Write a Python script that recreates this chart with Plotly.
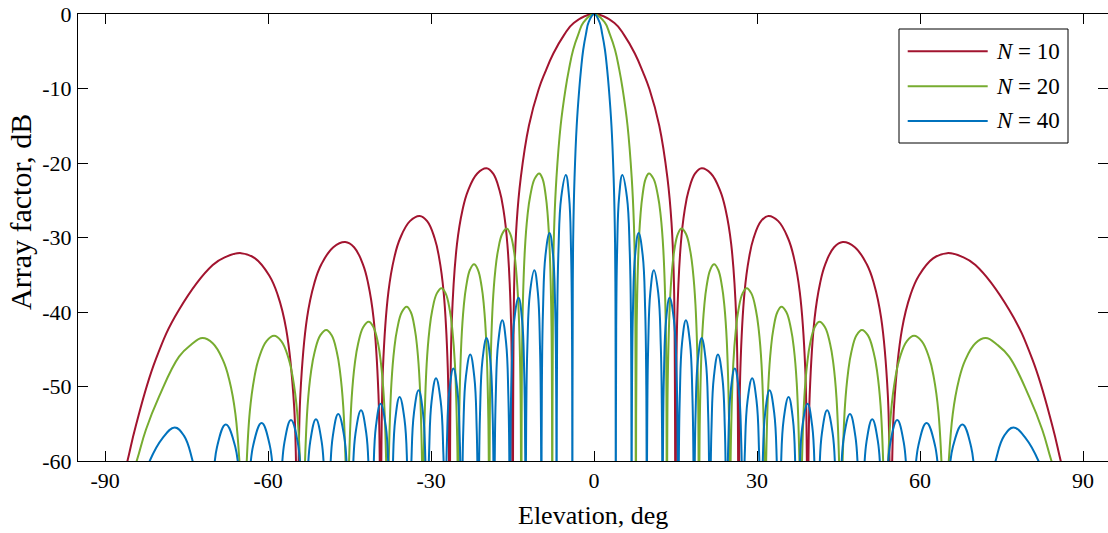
import plotly.graph_objects as go

# ---- data (right half, elevation >= 0; the pattern is symmetric) ----
red_x = [0, 3.75, 5.6, 7.5, 9.0, 10.2, 12.0, 13.5, 14.25, 14.7, 15.0,
         15.29, 15.96, 16.68, 17.4, 18.6, 19.8, 21.5, 23.2, 24.22, 25.24, 26.19, 26.6,
         26.93, 27.7, 28.53, 29.35, 30.73, 32.1, 33.9, 35.7, 36.78, 37.86, 38.87, 39.3,
         39.69, 40.6, 41.58, 42.55, 44.18, 45.8, 48.0, 50.2, 51.52, 52.84, 54.07, 54.6,
         55.22, 56.68, 58.24, 59.8, 62.4, 65.0, 67.8, 70.2, 76.4, 80.7, 84.4, 85.9, 88.0, 90.0]
red_y = [0, -1.2, -2.9, -5.3, -7.8, -10.1, -15, -22, -28, -36, -70,
         -41.2, -30.9, -26.3, -23.7, -21.4, -20.7, -21.4, -23.7, -26.3, -30.9, -41.2, -70,
         -47.6, -37.3, -32.7, -30.1, -27.8, -27.1, -27.8, -30.1, -32.7, -37.3, -47.6, -70,
         -51.1, -40.8, -36.2, -33.6, -31.3, -30.6, -31.3, -33.6, -36.2, -40.8, -51.1, -70,
         -52.6, -42.3, -37.7, -35.1, -32.8, -32.1, -32.6, -33.7, -39.7, -46.4, -55.4, -60, -66, -70]

green_x = [0, 1.93, 2.89, 3.85, 4.62, 5.24, 6.16, 6.93, 7.32, 7.55, 7.7,
           7.84, 8.18, 8.54, 8.9, 9.5, 10.1, 10.93, 11.75, 12.25, 12.74, 13.2, 13.4,
           13.56, 13.94, 14.35, 14.75, 15.43, 16.1, 16.9, 17.7, 18.18, 18.66, 19.11, 19.3,
           19.47, 19.86, 20.28, 20.7, 21.4, 22.1, 22.83, 23.55, 23.99, 24.42, 24.83, 25.0,
           25.19, 25.62, 26.09, 26.55, 27.33, 28.1, 28.95, 29.8, 30.31, 30.82, 31.3, 31.5,
           31.68, 32.1, 32.55, 33.0, 33.75, 34.5, 35.38, 36.25, 36.78, 37.3, 37.79, 38.0,
           38.21, 38.7, 39.23, 39.75, 40.63, 41.5, 42.48, 43.45, 44.04, 44.62, 45.17, 45.4,
           45.63, 46.18, 46.77, 47.35, 48.33, 49.3, 50.38, 51.45, 52.1, 52.74, 53.34, 53.6,
           53.92, 54.66, 55.46, 56.25, 57.58, 58.9, 60.3, 61.7, 62.54, 63.38, 64.16, 64.5,
           64.96, 66.02, 67.16, 68.3, 70.2, 72.1, 74.2, 76.4, 80.1, 82.5, 84.2, 87.0, 90.0]
green_y = [0, -1.1, -2.7, -4.8, -7.4, -10, -15, -22, -28, -36, -70,
           -41.9, -31.6, -27.0, -24.4, -22.1, -21.4, -22.1, -24.4, -27.0, -31.6, -41.9, -70,
           -49.3, -39.0, -34.4, -31.8, -29.5, -28.8, -29.5, -31.8, -34.4, -39.0, -49.3, -70,
           -54.1, -43.8, -39.2, -36.6, -34.3, -33.6, -34.3, -36.6, -39.2, -43.8, -54.1, -70,
           -57.3, -47.0, -42.4, -39.8, -37.5, -36.8, -37.5, -39.8, -42.4, -47.0, -57.3, -70,
           -59.8, -49.5, -44.9, -42.3, -40.0, -39.3, -40.0, -42.3, -44.9, -49.5, -59.8, -70,
           -61.8, -51.5, -46.9, -44.3, -42.0, -41.3, -42.0, -44.3, -46.9, -51.5, -61.8, -70,
           -62.9, -52.6, -48.0, -45.4, -43.1, -42.4, -43.1, -45.4, -48.0, -52.6, -62.9, -70,
           -63.7, -53.4, -48.8, -46.2, -43.9, -43.2, -43.9, -46.2, -48.8, -53.4, -63.7, -70,
           -64.0, -53.7, -49.1, -46.5, -44.2, -43.5, -44.4, -46.0, -51.4, -55.8, -60, -66, -70]

blue_x = [0, 1.0, 1.5, 2.0, 2.4, 2.72, 3.2, 3.6, 3.8, 3.92, 4.0,
          4.07, 4.24, 4.6, 5.2, 6.05, 6.56, 6.8, 6.9,
          6.98, 7.16, 7.55, 8.2, 8.95, 9.4, 9.61, 9.7,
          9.78, 9.96, 10.35, 11.0, 11.8, 12.28, 12.5, 12.6,
          12.68, 12.86, 13.25, 13.9, 14.7, 15.18, 15.4, 15.5,
          15.58, 15.78, 16.2, 16.9, 17.65, 18.1, 18.31, 18.4,
          18.48, 18.68, 19.1, 19.8, 20.55, 21.0, 21.21, 21.3,
          21.6, 22.05, 22.8, 23.6, 24.08, 24.4,
          24.7, 25.15, 25.9, 26.65, 27.1, 27.4,
          27.74, 28.25, 29.1, 29.9, 30.38, 30.7,
          31.02, 31.5, 32.3, 33.15, 33.66, 34.0,
          34.36, 34.9, 35.8, 36.6, 37.08, 37.4,
          37.78, 38.35, 39.3, 40.15, 40.66, 41.0,
          41.38, 41.95, 42.9, 43.9, 44.5, 44.9,
          45.34, 46.0, 47.1, 48.1, 48.7, 49.1,
          49.52, 50.15, 51.2, 52.25, 52.88, 53.3,
          53.8, 54.55, 55.8, 57.0, 57.72, 58.2,
          58.8, 59.7, 61.2, 62.75, 63.68, 64.3,
          65.0, 66.05, 67.8, 69.4, 70.36, 71.0,
          73.9, 75.5, 77.2, 79.5, 81.8, 84.5, 86.0]
blue_y = [0, -1.1, -2.7, -4.8, -7.4, -10, -15, -22, -28, -36, -70,
          -42.1, -31.8, -24.6, -21.6, -24.6, -31.8, -42.1, -70,
          -49.9, -39.6, -32.4, -29.4, -32.4, -39.6, -49.9, -70,
          -54.9, -44.6, -37.4, -34.4, -37.4, -44.6, -54.9, -70,
          -58.6, -48.3, -41.1, -38.1, -41.1, -48.3, -58.6, -70,
          -61.6, -51.3, -44.1, -41.1, -44.1, -51.3, -61.6, -70,
          -64.0, -53.7, -46.5, -43.5, -46.5, -53.7, -64.0, -70,
          -55.9, -48.7, -45.7, -48.7, -55.9, -70,
          -57.8, -50.6, -47.6, -50.6, -57.8, -70,
          -59.1, -51.9, -48.9, -51.9, -59.1, -70,
          -60.7, -53.5, -50.5, -53.5, -60.7, -70,
          -61.6, -54.4, -51.4, -54.4, -61.6, -70,
          -62.5, -55.3, -52.3, -55.3, -62.5, -70,
          -63.4, -56.2, -53.2, -56.2, -63.4, -70,
          -63.9, -56.7, -53.7, -56.7, -63.9, -70,
          -64.6, -57.4, -54.4, -57.4, -64.6, -70,
          -64.7, -57.5, -54.5, -57.5, -64.7, -70,
          -65.1, -57.9, -54.9, -57.9, -65.1, -70,
          -65.3, -58.1, -55.1, -58.1, -65.3, -70,
          -60, -56.6, -55.5, -57.0, -60, -66, -70]

series_names = ["<i>N</i> = 10", "<i>N</i> = 20", "<i>N</i> = 40"]
series_colors = ["#A2142F", "#77AC30", "#0072BD"]

x_tick_vals = [-90, -60, -30, 0, 30, 60, 90]
x_tick_text = ["-90", "-60", "-30", "0", "30", "60", "90"]
y_tick_vals = [-60, -50, -40, -30, -20, -10, 0]
y_tick_text = ["-60", "-50", "-40", "-30", "-20", "-10", "0"]
x_title = "Elevation, deg"
y_title = "Array factor, dB"

FONT = "Liberation Serif, Times New Roman, serif"


def mirror(xs, ys):
    fx = [-v for v in reversed(xs[1:])] + list(xs)
    fy = list(reversed(ys[1:])) + list(ys)
    return fx, fy


fig = go.Figure()
for (xs, ys), name, col in zip([(red_x, red_y), (green_x, green_y), (blue_x, blue_y)],
                               series_names, series_colors):
    fx, fy = mirror(xs, ys)
    fig.add_trace(go.Scatter(x=fx, y=fy, mode="lines", name=name,
                             line=dict(color=col, width=2, shape="spline", smoothing=1.2),
                             showlegend=False, hoverinfo="skip"))

# the page body margin is removed (post_script below), so figure pixels = window pixels
W, H = 1108, 533
ml, mr, mt, mb = 78, 0, 14, 72
pw, ph = W - ml - mr, H - mt - mb


def px(sx):
    return (sx - ml) / pw


def py(sy):
    return (H - mb - sy) / ph


shapes = [dict(type="rect", xref="paper", yref="paper", x0=px(899), x1=px(1068),
               y0=py(143), y1=py(29), line=dict(color="black", width=1), fillcolor="white",
               layer="above")]
annotations = []
for i, (name, col) in enumerate(zip(series_names, series_colors)):
    yc = [51.3, 86.3, 121.0][i]
    shapes.append(dict(type="line", xref="paper", yref="paper", x0=px(907.7), x1=px(987.7),
                       y0=py(yc), y1=py(yc), line=dict(color=col, width=2), layer="above"))
    annotations.append(dict(xref="paper", yref="paper", x=px(994), y=py(yc), text=name,
                            showarrow=False, xanchor="left", yanchor="middle",
                            font=dict(family=FONT, size=23, color="black")))

annotations.append(dict(xref="paper", yref="paper", x=px(593), y=py(515), text=x_title,
                        showarrow=False, xanchor="center", yanchor="middle",
                        font=dict(family=FONT, size=26, color="black")))
annotations.append(dict(xref="paper", yref="paper", x=px(20), y=py(212), text=y_title,
                        showarrow=False, xanchor="center", yanchor="middle", textangle=-90,
                        font=dict(family=FONT, size=30, color="black")))

axis_common = dict(ticks="inside", ticklen=10, tickwidth=1, tickcolor="black",
                   showline=True, linecolor="black", linewidth=1, mirror="ticks",
                   showgrid=False, zeroline=False, automargin=False,
                   ticklabeloverflow="allow",
                   tickfont=dict(family=FONT, size=22, color="black"))

fig.update_layout(
    width=W, height=H,
    margin=dict(l=ml, r=mr, t=mt, b=mb, autoexpand=False),
    plot_bgcolor="white", paper_bgcolor="white",
    font=dict(family=FONT, size=22, color="black"),
    showlegend=False, hovermode=False,
    shapes=shapes, annotations=annotations,
    xaxis=dict(range=[-95, 94.6], tickvals=x_tick_vals, ticktext=x_tick_text, **axis_common),
    yaxis=dict(range=[-60, 0], tickvals=y_tick_vals, ticktext=y_tick_text,
               ticklabelstandoff=1, **axis_common),
)

fig.write_html("out.html", config={"displayModeBar": False, "staticPlot": True},
               post_script="document.body.style.margin='0';document.body.style.overflow='hidden';")
